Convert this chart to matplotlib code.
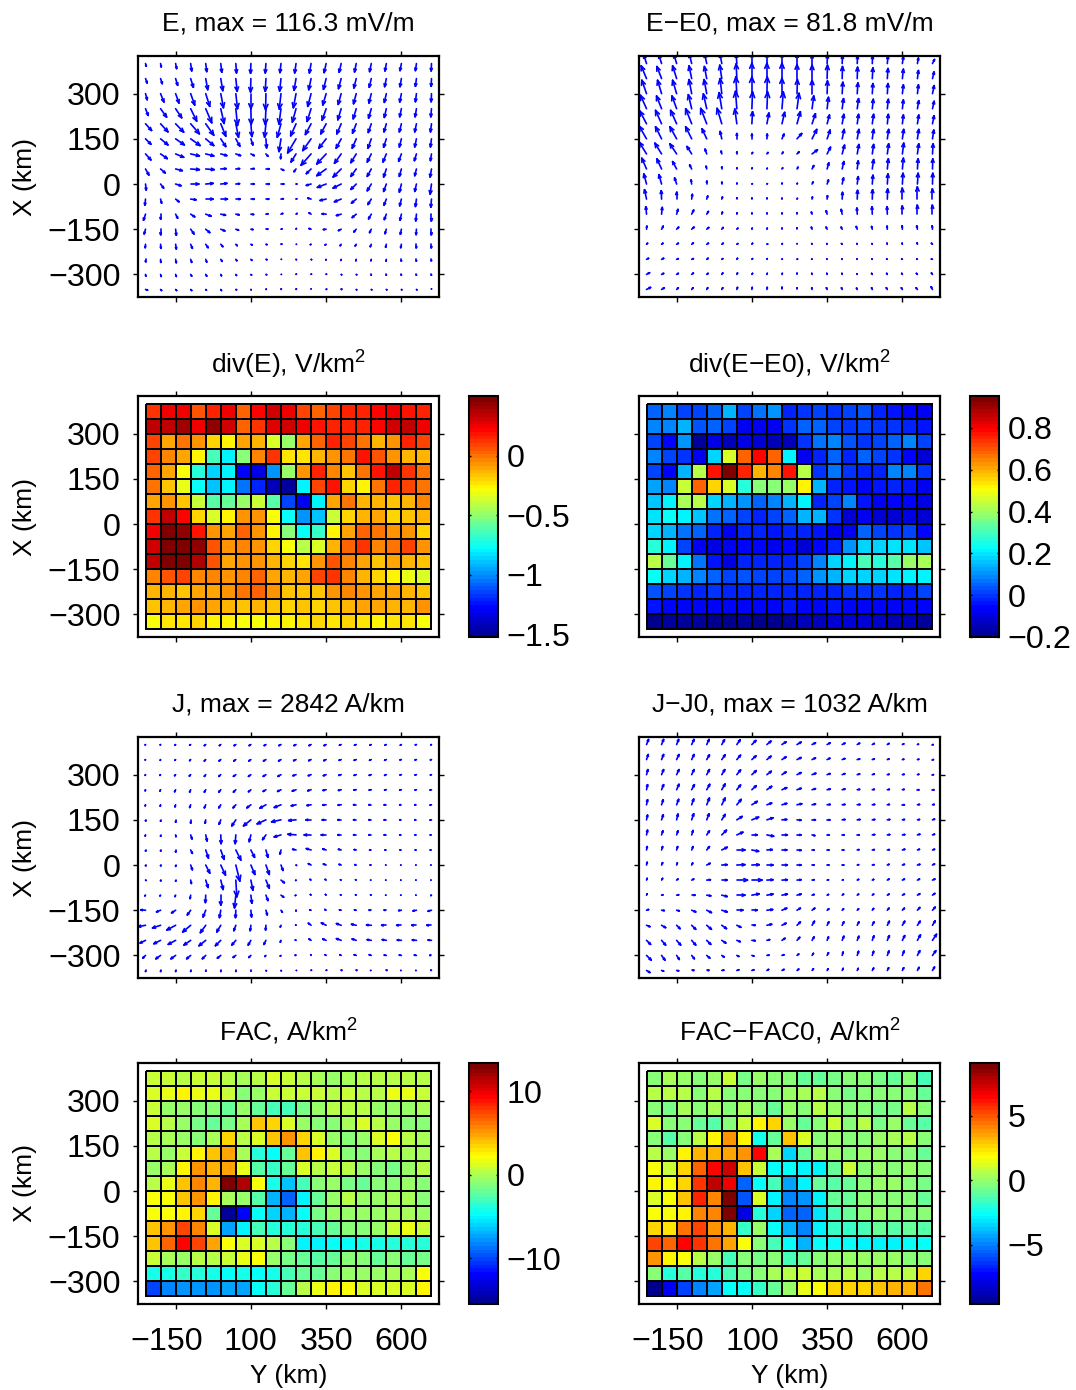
import numpy as np
import matplotlib
matplotlib.use('Agg')
import matplotlib.pyplot as plt
from matplotlib.collections import LineCollection
from matplotlib.colors import LinearSegmentedColormap
from matplotlib.transforms import ScaledTranslation

plt.rcParams['font.family'] = ['Liberation Sans', 'DejaVu Sans']
plt.rcParams['mathtext.default'] = 'regular'

# axis ticks (km)
y_ticks = [-150, 100, 350, 600]
x_ticks = [-300, -150, 0, 150, 300]

# node positions of the arrows, km
grid_y = list(range(-250, 701, 50))
grid_x = list(range(400, -351, -50))

# arrows (units: px of a 3x zoom), top row first
e_u = [
 [2,2,3,3,3,3,2,-1,-2,-3,-4,-5,-6,-6,-5,-5,-4,-4,-3,-1],
 [5,5,6,8,6,6,4,-1,-2,-4,-6,-7,-8,-8,-7,-6,-5,-4,-3,-1],
 [5,10,10,12,12,8,5,0,-1,-5,-8,-10,-10,-9,-8,-7,-6,-5,-3,-1],
 [8,18,18,18,18,10,5,1,-2,-6,-11,-12,-12,-10,-9,-8,-6,-5,-4,-2],
 [18,22,24,26,24,15,8,3,-4,-11,-16,-17,-16,-13,-11,-9,-7,-6,-5,-3],
 [16,22,26,28,24,15,12,6,2,-6,-25,-25,-22,-15,-12,-10,-8,-6,-5,-3],
 [16,20,24,26,24,18,14,10,6,-1,-15,-30,-28,-20,-16,-12,-10,-8,-6,-3],
 [10,14,20,26,25,16,11,10,10,8,-6,-14,-28,-24,-16,-12,-8,-6,-5,-4],
 [2,9,16,24,22,18,11,10,10,8,2,-14,-26,-24,-16,-12,-8,-6,-5,-4],
 [-2,3,10,16,22,20,13,10,8,7,2,-10,-18,-20,-14,-10,-7,-5,-3,-2],
 [-6,0,6,12,16,14,10,8,6,5,3,-6,-12,-14,-12,-8,-6,-4,-2,0],
 [-4,0,2,10,12,12,8,6,5,3,1,-6,-8,-8,-7,-5,-4,-3,-1,0],
 [-1,1,2,5,7,6,4,4,3,2,1,-2,-3,-3,-3,-3,-2,-2,0,0],
 [0,1,2,3,3,4,3,3,3,1,1,0,-1,-1,-1,-1,-1,0,0,0],
 [1,2,2,3,3,2,2,2,2,1,1,1,1,0,0,0,0,0,0,0],
 [6,3,3,3,2,2,2,1,1,1,1,0,0,0,0,0,0,0,0,0],
]
e_v = [
 [-8,-10,-15,-22,-24,-26,-28,-29,-28,-27,-28,-28,-27,-26,-25,-24,-22,-21,-21,-22],
 [-13,-15,-20,-26,-33,-36,-38,-40,-38,-37,-35,-33,-32,-30,-28,-26,-24,-24,-23,-23],
 [-18,-25,-28,-34,-38,-42,-45,-45,-48,-46,-42,-38,-34,-32,-30,-28,-26,-25,-24,-24],
 [-20,-25,-27,-37,-42,-44,-50,-47,-47,-46,-40,-38,-34,-33,-30,-28,-26,-24,-24,-24],
 [-20,-24,-25,-30,-34,-37,-40,-38,-40,-40,-36,-32,-30,-30,-28,-26,-24,-24,-24,-24],
 [-16,-18,-18,-20,-20,-23,-22,-18,-27,-38,-42,-35,-28,-28,-28,-28,-25,-24,-24,-24],
 [-18,-14,-10,-6,-6,-5,-5,-5,-7,-14,-24,-34,-30,-28,-26,-24,-24,-22,-20,-20],
 [-18,-12,-5,-2,-2,1,1,1,0,-4,-8,-14,-20,-24,-22,-22,-24,-22,-20,-24],
 [-18,-12,-5,0,2,2,1,0,0,0,0,-4,-10,-12,-16,-20,-22,-24,-22,-30],
 [-18,-12,-8,-2,0,0,0,0,0,1,1,3,-4,-8,-12,-16,-18,-20,-22,-24],
 [-18,-15,-12,-8,-6,-3,-2,-1,1,2,2,4,1,-4,-10,-14,-16,-18,-20,-20],
 [-14,-16,-18,-14,-10,-5,-3,-1,0,1,2,2,-1,-4,-8,-10,-13,-15,-16,-16],
 [-10,-12,-14,-12,-10,-7,-4,-2,-1,0,0,-1,-2,-4,-5,-7,-9,-10,-10,-10],
 [-7,-9,-10,-9,-8,-6,-4,-3,-1,0,-1,-1,-2,-3,-4,-4,-5,-5,-5,-4],
 [-5,-6,-6,-5,-5,-4,-3,-2,-1,0,1,1,1,-1,-1,-2,-2,-2,-2,-2],
 [-2,-3,-3,-3,-2,-3,-1,-1,1,2,2,2,1,0,-1,-1,-1,-1,-1,2],
]
de_u = [
 [-8,-8,-8,-7,-6,-5,-2,0,0,0,0,0,1,1,1,1,2,3,3,6],
 [-16,-14,-12,-8,-7,-6,-2,0,0,0,0,0,1,1,1,2,2,3,3,5],
 [-14,-12,-12,-8,-8,-5,-3,0,1,0,1,0,1,2,2,2,2,3,3,5],
 [-18,-15,-14,-10,-10,-8,-4,2,2,4,6,5,4,4,4,3,3,3,4,5],
 [-20,-18,-18,-18,-18,-14,-6,2,6,8,10,10,7,5,4,4,3,3,4,5],
 [-22,-18,-20,-18,-14,-5,0,0,1,6,14,14,9,6,5,4,4,4,4,4],
 [-22,-20,-20,-14,-5,-2,0,2,3,3,6,16,10,7,5,4,4,4,4,2],
 [-14,-14,-12,-6,-2,0,0,1,1,2,3,5,5,5,3,4,3,3,2,1],
 [-8,-8,-6,-2,0,0,0,0,0,0,1,3,4,4,3,2,2,2,2,1],
 [-6,-1,0,2,3,2,0,0,0,0,1,1,1,1,1,1,1,0,0,0],
 [-2,2,4,6,5,2,1,0,0,0,0,-2,-3,-3,-1,-1,-1,0,0,0],
 [1,5,6,7,6,4,3,1,1,0,0,-2,-3,-3,-3,-2,-1,-1,-2,-1],
 [3,4,5,5,5,4,3,2,2,1,0,-1,-1,-2,-1,-1,-1,-1,-1,-3],
 [6,6,5,5,4,3,2,2,1,1,0,-1,-1,-1,-1,-1,-2,-2,-2,-3],
 [9,6,5,5,4,3,2,2,1,1,0,-1,-1,-1,-1,-2,-2,-2,-3,-3],
 [12,8,5,4,3,3,2,1,1,0,0,-1,-2,-2,-2,-2,-3,-3,-4,-4],
]
de_v = [
 [25,25,26,28,28,28,28,30,30,30,28,25,25,23,22,22,22,20,16,12],
 [38,36,38,38,36,40,44,46,46,46,42,40,40,36,34,32,30,28,24,20],
 [40,40,40,42,42,45,50,50,50,46,42,40,38,34,32,30,30,26,26,24],
 [40,38,38,42,44,48,52,50,50,50,46,38,34,30,30,28,28,26,24,22],
 [38,40,40,45,46,46,44,36,32,34,36,30,26,28,28,28,28,26,26,24],
 [38,36,36,36,30,22,16,14,14,14,16,28,26,28,28,28,28,28,28,26],
 [35,32,30,22,14,8,6,4,4,5,6,12,20,26,28,28,30,32,30,30],
 [32,30,22,12,8,6,3,3,2,3,5,10,18,22,24,28,30,32,30,30],
 [30,28,18,12,8,5,2,1,1,2,2,6,12,18,22,26,30,32,32,32],
 [28,25,20,14,9,6,4,3,3,2,2,6,10,20,26,28,30,32,36,30],
 [22,20,14,12,8,6,4,3,3,3,4,6,10,14,18,22,22,24,26,26],
 [9,9,6,6,5,5,3,3,3,3,4,6,6,6,8,8,9,10,10,10],
 [3,3,3,4,3,3,2,3,1,2,2,2,2,2,2,2,3,3,4,3],
 [3,3,2,2,3,2,3,2,2,1,1,1,1,1,1,1,1,1,1,1],
 [5,3,3,4,3,4,4,3,3,3,3,3,3,3,2,3,3,3,3,4],
 [6,5,5,5,5,5,6,6,6,6,5,5,5,5,4,5,5,5,5,8],
]
j_u = [
 [-1,-1,-2,-3,-4,-4,-5,-5,-5,-6,-6,-6,-6,-5,-5,-4,-4,-3,-3,-2],
 [-1,-1,-2,-3,-4,-5,-6,-6,-7,-7,-7,-7,-7,-6,-6,-5,-5,-4,-4,-3],
 [-1,-2,-3,-4,-4,-6,-7,-7,-8,-9,-9,-8,-8,-7,-6,-6,-5,-4,-4,-3],
 [-1,-2,-3,-3,-4,-6,-7,-7,-8,-10,-11,-10,-9,-8,-7,-6,-5,-5,-4,-4],
 [-1,-1,-2,-3,-4,-6,-8,-12,-18,-20,-14,-12,-10,-9,-8,-7,-6,-5,-5,-4],
 [0,0,0,0,-2,-5,-12,-22,-26,-28,-22,-15,-11,-10,-8,-7,-6,-5,-5,-4],
 [-1,0,1,4,4,1,-2,-5,-10,-20,-24,-20,-14,-10,-8,-7,-6,-5,-4,-3],
 [0,0,0,5,8,10,15,11,6,-3,-10,-14,-10,-8,-6,-5,-4,-4,-3,-3],
 [0,0,0,5,12,14,12,12,10,6,0,-8,-8,-6,-4,-3,-2,-2,-2,-2],
 [0,0,0,2,7,7,3,6,10,10,-1,-3,-3,-2,-2,-2,-2,-2,-2,-2],
 [-2,-2,-2,-2,-1,0,-4,3,6,8,-2,-2,-2,-2,-2,-2,-2,-2,-2,-2],
 [-14,-12,-12,-10,-8,-4,-1,2,4,4,0,-4,-4,-5,-5,-6,-6,-8,-10,-10],
 [-22,-24,-26,-24,-16,-12,-6,-2,-1,-2,-1,-8,-14,-14,-14,-14,-14,-14,-14,-14],
 [-16,-20,-22,-20,-20,-16,-12,-8,-6,-2,-2,-6,-10,-14,-12,-12,-12,-12,-12,-10],
 [-8,-14,-14,-12,-10,-10,-8,-6,-3,-2,-2,-1,-3,-4,-6,-6,-6,-6,-6,-5],
 [0,0,0,0,0,0,0,0,0,1,1,1,0,-1,-1,-2,-1,-2,-2,-2],
]
j_v = [
 [-1,-1,-2,-2,-3,-3,-3,-3,-3,-3,-3,-3,-3,-2,-2,-2,-2,-2,-1,-1],
 [-1,-2,-2,-3,-4,-4,-4,-4,-4,-4,-3,-3,-3,-2,-2,-2,-2,-1,-1,-1],
 [-2,-2,-3,-4,-5,-5,-5,-5,-5,-5,-3,-3,-3,-2,-2,-2,-2,-1,-1,-1],
 [-3,-4,-6,-7,-7,-7,-7,-6,-5,-5,-4,-3,-2,-2,-1,-1,-1,-1,-1,-1],
 [-3,-4,-6,-8,-9,-9,-9,-9,-10,-8,-3,-2,-1,-1,0,0,0,0,0,-1],
 [-3,-4,-7,-10,-10,-13,-18,-18,-12,-6,-2,0,0,0,0,0,0,0,0,-1],
 [-3,-4,-5,-12,-18,-26,-26,-20,-14,-6,2,0,0,0,0,0,0,0,0,0],
 [-3,-3,-6,-10,-24,-28,-30,-22,-22,-12,2,4,3,2,1,0,0,0,0,0],
 [-2,-2,-4,-14,-24,-30,-48,-28,-28,-16,-1,4,3,2,1,0,0,0,0,0],
 [-1,-2,-3,-10,-22,-28,-50,-30,-24,-8,-1,2,2,1,1,0,0,0,0,0],
 [-2,-2,-4,-10,-22,-30,-38,-24,-16,-6,-1,2,2,1,1,1,0,0,0,-1],
 [1,-5,-8,-14,-20,-22,-22,-20,-14,-6,-2,1,2,1,1,0,0,-1,-2,-3],
 [-4,-8,-14,-20,-22,-20,-16,-16,-14,-5,1,6,7,5,3,1,0,0,0,0],
 [-8,-10,-12,-14,-16,-16,-14,-14,-12,-5,1,4,4,5,4,2,2,1,1,1],
 [-8,-10,-10,-10,-10,-8,-6,-6,-3,-2,0,2,2,2,2,2,1,1,1,0],
 [-3,-3,-3,-3,-2,-3,-3,-2,-1,-1,0,1,1,0,0,0,0,0,0,1],
]
dj_u = [
 [6,6,6,7,7,8,10,12,12,12,12,10,9,8,7,6,5,4,3,2],
 [5,6,7,7,8,10,11,12,12,12,12,10,8,8,7,6,5,4,4,3],
 [4,6,7,7,8,9,11,13,13,12,12,11,9,8,7,6,5,5,4,3],
 [3,6,7,8,9,10,11,13,14,14,12,10,9,8,7,6,6,5,4,4],
 [3,5,6,6,8,10,13,16,14,14,14,10,9,8,8,7,6,6,6,5],
 [3,5,4,6,7,10,16,20,18,14,12,10,8,8,8,7,7,6,6,6],
 [3,4,4,4,8,14,18,16,20,16,12,8,6,6,6,7,7,7,7,6],
 [2,3,3,4,8,16,24,20,16,14,12,6,5,4,5,6,6,7,6,6],
 [2,3,2,3,10,16,24,22,18,16,12,6,5,4,4,5,5,6,7,6],
 [2,3,4,6,11,16,32,30,18,16,12,6,4,3,4,4,5,6,6,7],
 [2,4,6,10,12,16,24,22,18,16,12,6,4,4,4,4,5,6,7,7],
 [6,8,8,12,14,16,18,16,17,14,10,8,5,4,4,4,5,6,7,8],
 [10,12,10,12,14,14,12,10,14,12,10,7,5,5,5,5,6,7,8,8],
 [12,12,12,12,12,12,10,10,8,9,8,6,4,5,5,5,6,7,9,12],
 [14,10,8,8,9,7,6,6,6,6,5,4,4,3,4,4,5,5,7,10],
 [10,6,6,6,6,6,6,6,5,6,5,4,3,3,3,4,4,4,5,6],
]
dj_v = [
 [15,15,15,15,15,14,14,12,10,8,7,5,5,4,4,3,3,2,1,0],
 [15,15,15,15,14,14,13,11,10,8,6,5,4,3,2,2,2,1,1,0],
 [15,15,15,15,15,15,14,12,10,8,6,4,3,3,2,2,1,1,1,0],
 [15,15,16,15,16,17,14,12,10,6,4,3,2,2,1,1,1,1,0,0],
 [15,15,16,17,20,20,16,10,5,4,3,2,1,1,1,1,1,0,1,1],
 [14,15,17,18,18,16,10,8,6,1,-1,0,0,1,1,1,1,1,1,2],
 [14,12,12,13,12,14,8,0,-4,0,0,-2,0,0,0,1,1,1,2,2],
 [10,10,10,10,10,8,0,-4,1,0,-1,0,0,0,1,1,1,2,2,2],
 [8,7,6,6,5,1,1,1,0,0,0,0,0,0,1,1,2,2,2,3],
 [5,5,3,3,1,0,0,0,1,1,1,1,1,1,2,2,3,3,3,3],
 [4,1,1,0,-2,-4,0,4,3,3,3,2,2,3,3,3,3,3,4,5],
 [2,-1,-2,-5,-7,-5,0,0,2,6,6,6,4,4,4,5,6,6,8,9],
 [-4,-7,-10,-12,-12,-10,-6,0,3,6,10,12,10,10,10,10,12,12,12,13],
 [-12,-14,-14,-14,-12,-8,-4,-1,2,6,9,10,10,12,12,13,14,14,16,18],
 [-14,-14,-12,-10,-8,-5,-3,-2,1,2,4,6,8,10,12,12,13,13,14,14],
 [-6,-2,-1,0,0,1,2,2,3,3,4,5,5,6,6,7,8,8,9,10],
]

# colour levels of the cells (0-100 along the colour bar), top row first
div_e = [
 [82,88,89,79,84,88,77,86,92,88,81,77,81,83,83,86,88,85,84],
 [93,93,96,89,97,92,78,82,90,91,88,85,83,83,84,87,91,93,89],
 [81,71,76,73,67,63,71,69,59,53,71,77,84,80,76,70,72,83,81],
 [80,74,71,63,45,37,50,74,82,65,65,69,73,76,85,79,72,70,70],
 [78,71,62,42,34,36,14,10,28,52,73,83,74,68,75,85,93,82,76],
 [76,68,60,39,32,36,24,17,5,2,37,80,85,66,64,75,83,80,75],
 [71,72,68,57,46,47,52,57,46,20,11,36,71,76,70,70,68,70,74],
 [82,93,87,66,59,64,73,73,62,38,27,32,57,66,70,71,66,68,70],
 [89,100,97,85,73,71,77,73,64,50,38,43,63,71,77,75,72,73,67],
 [92,99,100,97,79,72,74,72,66,62,56,59,69,77,82,74,76,81,73],
 [93,99,100,94,79,71,73,73,69,67,65,72,79,74,71,68,71,70,68],
 [74,79,81,74,74,72,74,77,71,70,71,81,82,74,70,66,63,60,59],
 [69,70,68,71,71,72,76,78,72,68,68,68,73,74,72,71,71,70,68],
 [68,69,71,73,71,70,68,70,68,67,68,67,68,70,71,71,69,70,72],
 [61,65,65,66,63,64,62,62,63,63,65,66,65,66,65,64,65,65,62],
]
div_de = [
 [22,26,20,20,22,31,19,24,28,17,18,20,18,20,21,16,15,14,12],
 [26,26,30,21,23,19,11,11,11,18,23,23,19,18,19,18,18,17,15],
 [20,14,27,3,10,6,10,9,6,6,18,24,26,21,18,19,23,26,19],
 [25,20,18,11,33,58,77,86,78,36,12,16,22,16,23,20,18,13,8],
 [20,13,31,55,85,100,84,69,75,85,56,18,24,18,16,16,25,26,18],
 [29,26,57,78,66,58,42,50,50,52,63,31,17,15,14,15,17,15,12],
 [32,37,54,56,33,31,27,23,25,31,37,17,20,26,15,12,14,13,10],
 [35,38,36,32,24,22,20,17,19,22,31,30,18,8,12,9,9,10,8],
 [33,30,24,23,17,12,17,17,15,16,16,15,12,12,22,19,18,20,13],
 [42,36,20,12,10,11,13,14,12,13,9,13,17,27,33,34,35,35,32],
 [56,47,37,24,15,10,17,16,16,17,19,26,33,37,45,42,46,52,54],
 [38,33,31,26,23,20,21,20,20,20,22,28,31,33,34,33,35,37,37],
 [21,20,18,17,18,16,17,16,17,17,16,16,16,18,18,18,17,17,19],
 [15,13,13,14,13,13,14,14,14,15,13,14,15,14,14,14,14,14,14],
 [1,2,2,2,0,1,2,0,1,2,5,5,8,8,8,7,6,5,3],
]
fac = [
 [56,56,55,56,56,55,53,55,58,56,54,53,52,53,54,55,54,55,54],
 [58,59,62,59,59,56,50,51,56,56,56,56,54,56,55,55,59,59,56],
 [56,51,52,50,49,47,51,47,43,44,48,52,54,55,54,52,51,52,53],
 [58,54,51,48,47,48,53,67,65,58,51,50,50,53,57,54,52,49,50],
 [55,53,51,50,53,65,55,58,67,71,66,58,51,49,52,57,60,54,53],
 [55,52,56,63,67,70,53,41,37,47,67,63,58,50,50,53,54,53,53],
 [52,53,63,72,68,70,59,45,42,47,58,54,56,55,51,50,48,51,54],
 [54,59,67,73,68,100,94,60,39,31,44,50,51,48,47,49,50,52,50],
 [60,61,67,71,63,53,51,45,30,21,36,47,51,54,52,52,53,53,49],
 [61,61,63,66,47,2,13,37,33,29,37,48,51,52,51,52,53,53,52],
 [67,72,80,73,57,28,35,44,41,40,41,44,47,49,50,52,56,59,56],
 [67,76,85,79,70,60,57,58,55,50,36,36,37,38,39,39,41,40,41],
 [56,53,52,54,55,56,59,60,52,48,46,45,46,49,49,47,50,47,48],
 [39,39,42,41,39,38,39,37,39,43,47,47,50,51,51,52,53,53,60],
 [18,24,26,26,26,28,28,37,40,47,54,59,62,60,58,58,57,57,63],
]
dfac = [
 [50,53,51,50,51,56,48,51,50,49,46,47,48,50,49,48,46,50,44],
 [55,55,54,50,54,49,49,50,49,52,53,54,49,48,49,49,49,49,47],
 [50,48,53,50,53,50,53,50,47,51,50,54,52,50,50,48,48,54,50],
 [57,50,50,46,45,49,56,63,66,51,46,50,56,50,55,48,52,47,45],
 [50,45,50,55,62,72,63,39,47,67,58,49,52,50,49,51,53,55,49],
 [55,52,63,69,68,70,72,85,53,33,47,51,52,50,51,51,49,50,46],
 [60,56,66,76,85,90,67,56,38,37,36,36,46,56,50,51,49,51,49],
 [62,60,66,81,92,87,21,38,43,28,35,47,45,47,50,52,51,50,48],
 [58,60,67,83,73,100,20,57,36,24,26,36,46,47,50,50,49,50,47],
 [60,61,63,73,73,99,9,41,32,22,22,34,44,46,50,51,50,50,49],
 [65,64,74,80,72,68,42,52,38,29,25,36,42,42,43,47,45,46,45],
 [80,76,85,81,74,70,60,49,43,37,30,38,37,37,36,35,36,38,37],
 [71,63,60,55,52,43,50,48,50,43,46,50,52,52,52,52,52,49,49],
 [50,41,45,41,40,43,48,49,53,54,56,53,53,54,52,55,55,55,65],
 [0,11,19,25,28,37,37,42,46,52,59,60,65,65,65,67,68,68,74],
]

# colour limits and colour bar ticks
div_e_lim = (-1.52, 0.50)
div_de_lim = (-0.2, 0.953)
fac_lim = (-15.45, 13.35)
dfac_lim = (-9.6, 9.1)
div_e_ticks = [-1.5, -1, -0.5, 0]
div_de_ticks = [-0.2, 0, 0.2, 0.4, 0.6, 0.8]
fac_ticks = [-10, 0, 10]
dfac_ticks = [-5, 0, 5]

W, H = 1076, 1390
TICK_FS = 23.2
TITLE_FS = 19.0
KM_PER_UNIT = 1000 / 301 / 3   # one unit of the arrow tables on the axes

# the 64 step jet of the reference differs a little from matplotlib's own
jet = LinearSegmentedColormap.from_list('jet64', [
    (0, (0, 0, 0.55)), (0.125, (0, 0, 1)), (0.375, (0, 1, 1)),
    (0.625, (1, 1, 0)), (0.875, (1, 0, 0)), (1, (0.5, 0, 0))], N=64)

fig = plt.figure(figsize=(W / 100, H / 100), dpi=100)


def make_axes(left, top, right, bottom):
    # pixel box measured from the top left corner of the picture
    return fig.add_axes([left / W, 1 - bottom / H, (right - left) / W, (bottom - top) / H])


def style_axes(ax, title, show_y, show_x):
    ax.set_xlim(-275, 725)
    ax.set_ylim(-375, 425)
    ax.set_xticks(y_ticks)
    ax.set_yticks(x_ticks)
    ax.tick_params(direction='out', length=3.6, width=1.0, top=True, right=True,
                   labelsize=TICK_FS, labelleft=show_y, labelbottom=show_x, pad=9)
    ax.tick_params(axis='x', pad=13)
    for s in ax.spines.values():
        s.set_linewidth(1.6)
    ax.set_title(title, fontsize=TITLE_FS, pad=16 if '$' in title else 18.5)
    if show_y:
        ax.set_ylabel('X (km)', fontsize=TITLE_FS)
        ax.yaxis.set_label_coords(-0.335, 0.5)
    if show_x:
        ax.set_xlabel('Y (km)', fontsize=TITLE_FS)
        ax.xaxis.set_label_coords(0.5, -0.25)
        # the reference centres the digits of -150 rather than the whole label
        lab = ax.get_xticklabels()[0]
        lab.set_transform(lab.get_transform() + ScaledTranslation(-9 / 100, 0, fig.dpi_scale_trans))


def arrows(box, u, v, title, show_y):
    ax = make_axes(*box)
    px, py = np.meshgrid(grid_y, grid_x)
    du = np.array(u, float) * KM_PER_UNIT
    dv = np.array(v, float) * KM_PER_UNIT
    # a vector too short to read still leaves a dot
    tiny = np.hypot(du, dv) < 1.5
    du[tiny] = 1.5
    tip_x, tip_y = px + du, py + dv
    segs = []
    for x0, y0, x1, y1, a, b in zip(px.ravel(), py.ravel(), tip_x.ravel(), tip_y.ravel(),
                                    du.ravel(), dv.ravel()):
        # shaft and two short barbs that grow with the arrow, as in a MATLAB quiver
        segs.append([(x0, y0), (x1, y1)])
        back_x, back_y = x1 - 0.33 * a, y1 - 0.33 * b
        segs.append([(back_x - 0.14 * b, back_y + 0.14 * a), (x1, y1)])
        segs.append([(back_x + 0.14 * b, back_y - 0.14 * a), (x1, y1)])
    ax.add_collection(LineCollection(segs, colors='#0000ff', linewidths=1.2, capstyle='round'))
    style_axes(ax, title, show_y, False)


def cells(box, cbox, levels, lim, ticks, title, show_y, show_x, shift=0):
    ax = make_axes(*box)
    vals = lim[0] + np.clip(np.array(levels) + shift, 0, 100) / 100 * (lim[1] - lim[0])
    edges_y = np.arange(-250, 701, 50)
    edges_x = np.arange(400, -351, -50)
    mesh = ax.pcolormesh(edges_y, edges_x, vals, cmap=jet, vmin=lim[0], vmax=lim[1],
                         edgecolors='k', linewidth=1.1)
    style_axes(ax, title, show_y, show_x)
    cax = make_axes(*cbox)
    cb = fig.colorbar(mesh, cax=cax)
    cb.solids.set_edgecolor('face')
    cb.outline.set_linewidth(1.5)
    cax.yaxis.set_ticks_position('both')
    cax.tick_params(direction='in', length=1.5, width=1.0, labelsize=TICK_FS,
                    labelleft=False, labelright=True, pad=6)
    cb.set_ticks(ticks)
    cb.set_ticklabels([f'{t:g}'.replace('-', '\u2212') for t in ticks])


arrows((138, 56, 439, 297), e_u, e_v, 'E, max = 116.3 mV/m', True)
arrows((639, 56, 940, 297), de_u, de_v, 'E\u2212E0, max = 81.8 mV/m', False)
cells((138, 396, 439, 637), (469, 396, 498, 637), div_e, div_e_lim, div_e_ticks,
      'div(E), V/km$^{2}$', True, False)
cells((639, 396, 940, 637), (970, 396, 999, 637), div_de, div_de_lim, div_de_ticks,
      'div(E\u2212E0), V/km$^{2}$', False, False)
arrows((138, 737, 439, 978), j_u, j_v, 'J, max = 2842 A/km', True)
arrows((639, 737, 940, 978), dj_u, dj_v, 'J\u2212J0, max = 1032 A/km', False)
cells((138, 1063, 439, 1304), (469, 1063, 498, 1304), fac, fac_lim, fac_ticks,
      'FAC, A/km$^{2}$', True, True, shift=1)
cells((639, 1063, 940, 1304), (970, 1063, 999, 1304), dfac, dfac_lim, dfac_ticks,
      'FAC\u2212FAC0, A/km$^{2}$', False, True, shift=1)

fig.savefig('out.png', dpi=100)
